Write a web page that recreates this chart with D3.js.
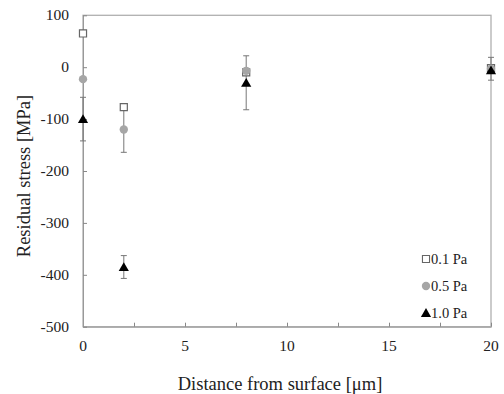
<!DOCTYPE html>
<html>
<head>
<meta charset="utf-8">
<script src="https://cdn.jsdelivr.net/npm/d3@7"></script>
<style>
body{margin:0;background:#fff;}
</style>
</head>
<body>
<div class="chart"></div>
<script>
var width = 504,
	height = 394;
// data
var depth = [0, 2, 8, 20];
var s01 = [65, -77, -10, -2];
var s05 = [-23, -120, -7, -3];
var e05 = [0, 44, 0, 22];
var s10 = [-100, -385, -30, -6];
var e10 = [42, 22, 52, 0];
var xTicks = [0, 5, 10, 15, 20];
var xMinor = [0, 2.5, 5, 7.5, 10, 12.5, 15, 17.5, 20];
var yTicks = [100, 0, -100, -200, -300, -400, -500];
var legendNames = ["0.1 Pa", "0.5 Pa", "1.0 Pa"];
var serif = "'Liberation Serif','Times New Roman',Times,serif";

var svg = d3.select(".chart").append("svg").attr("width", width).attr("height", height)
	.attr("font-family", serif);
var x = d3.scaleLinear().domain([0, 20]).range([83, 491]);
var y = d3.scaleLinear().domain([-500, 100]).range([326.7, 15.3]);

// frame
svg.append("rect").attr("x", 83).attr("y", 15.3).attr("width", 408).attr("height", 311.4)
	.attr("fill", "none").attr("stroke", "#b0b0b0").attr("stroke-width", 1.3);

var xAxis = svg.append("g").attr("transform", "translate(0,326.7)")
	.call(d3.axisBottom(x).tickValues(xMinor).tickSizeInner(-4).tickSizeOuter(0).tickFormat(""));
xAxis.select(".domain").attr("stroke", "#999");
xAxis.selectAll("line").attr("stroke", "#888");
svg.selectAll(".xlab").data(xTicks).enter().append("text")
	.attr("x", function(d){return x(d);}).attr("y", 351)
	.attr("text-anchor", "middle").attr("font-size", 15.5).attr("fill", "#222")
	.text(function(d){return d;});

var yAxis = svg.append("g").attr("transform", "translate(83,0)")
	.call(d3.axisLeft(y).tickValues(yTicks).tickSizeInner(-4).tickSizeOuter(0).tickFormat(""));
yAxis.select(".domain").attr("stroke", "#999");
yAxis.selectAll("line").attr("stroke", "#888");
svg.selectAll(".ylab").data(yTicks).enter().append("text")
	.attr("x", 69).attr("y", function(d){return y(d) + 5;})
	.attr("text-anchor", "end").attr("font-size", 15.5).attr("fill", "#222")
	.text(function(d){return d;});

svg.append("text").attr("transform", "translate(30,176) rotate(-90)")
	.attr("text-anchor", "middle").attr("font-size", 18.5).attr("fill", "#222")
	.text("Residual stress [MPa]");
svg.append("text").attr("x", 280).attr("y", 390)
	.attr("text-anchor", "middle").attr("font-size", 18.5).attr("fill", "#222")
	.text("Distance from surface [\u03bcm]");

// error bars
function errBars(vals, errs){
	var g = svg.append("g").attr("stroke", "#777").attr("stroke-width", 1);
	depth.forEach(function(d, i){
		if(!errs[i]) return;
		var cx = x(d), y1 = y(vals[i] + errs[i]), y2 = y(vals[i] - errs[i]);
		g.append("line").attr("x1", cx).attr("x2", cx).attr("y1", y1).attr("y2", y2);
		g.append("line").attr("x1", cx - 3).attr("x2", cx + 3).attr("y1", y1).attr("y2", y1);
		g.append("line").attr("x1", cx - 3).attr("x2", cx + 3).attr("y1", y2).attr("y2", y2);
	});
}
errBars(s05, e05);
errBars(s10, e10);

var sq = d3.symbol().type(d3.symbolSquare).size(50);
var ci = d3.symbol().type(d3.symbolCircle).size(55);
var tr = d3.symbol().type(d3.symbolTriangle).size(45);

svg.selectAll(".p01").data(s01).enter().append("path")
	.attr("d", sq).attr("transform", function(d, i){return "translate(" + x(depth[i]) + "," + y(d) + ")";})
	.attr("fill", "#fff").attr("stroke", "#666").attr("stroke-width", 1.2);
svg.selectAll(".p05").data(s05).enter().append("path")
	.attr("d", ci).attr("transform", function(d, i){return "translate(" + x(depth[i]) + "," + y(d) + ")";})
	.attr("fill", "#a6a6a6");
svg.selectAll(".p10").data(s10).enter().append("path")
	.attr("d", tr).attr("transform", function(d, i){return "translate(" + x(depth[i]) + "," + (y(d) + 1) + ")";})
	.attr("fill", "#000");

// legend
var legY = [259, 286, 313];
var leg = svg.append("g");
leg.append("path").attr("d", sq).attr("transform", "translate(426," + legY[0] + ")")
	.attr("fill", "#fff").attr("stroke", "#666").attr("stroke-width", 1.1);
leg.append("path").attr("d", ci).attr("transform", "translate(426," + legY[1] + ")").attr("fill", "#a6a6a6");
leg.append("path").attr("d", tr).attr("transform", "translate(426," + (legY[2] + 1) + ")").attr("fill", "#000");
leg.selectAll("text").data(legendNames).enter().append("text")
	.attr("x", 431).attr("y", function(d, i){return legY[i] + 5;})
	.attr("font-size", 14.5).attr("fill", "#222").text(function(d){return d;});
</script>
</body>
</html>
